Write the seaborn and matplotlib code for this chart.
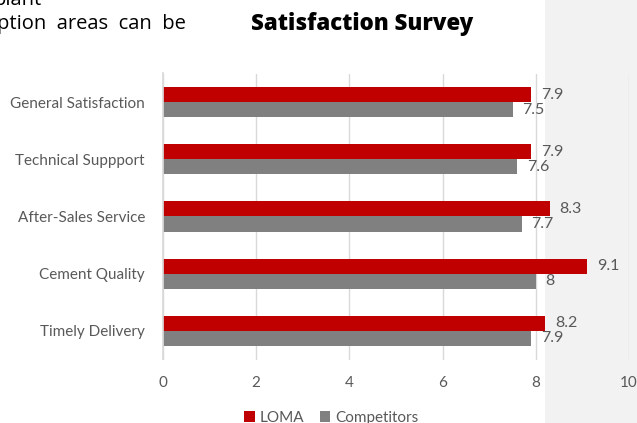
import pandas as pd
import seaborn as sns
from matplotlib import pyplot as plt
from matplotlib.patches import Rectangle, Patch

categories = ['General Satisfaction', 'Technical Suppport', 'After-Sales Service',
              'Cement Quality', 'Timely Delivery']
loma = [7.9, 7.9, 8.3, 9.1, 8.2]
competitors = [7.5, 7.6, 7.7, 8, 7.9]
series = ['LOMA', 'Competitors']
colors = ['#c00000', '#808080']

df = pd.DataFrame({
    'category': categories * 2,
    'score': loma + competitors,
    'series': [series[0]] * len(loma) + [series[1]] * len(competitors),
})

sns.set_theme(style='white')
plt.rcParams['font.family'] = ['Lato', 'DejaVu Sans']

fig = plt.figure(figsize=(6.37, 4.23), dpi=100)
# light grey page margin on the right
fig.patches.append(Rectangle((545 / 637, 0), 1, 1, transform=fig.transFigure,
                             facecolor='#f2f2f2', edgecolor='none', zorder=-10))

ax = fig.add_axes([163 / 637, 1 - 359.5 / 423, 466 / 637, 286 / 423])
ax.set_facecolor('none')

sns.barplot(data=df, x='score', y='category', hue='series', order=categories,
            hue_order=series, palette=colors, width=0.53, orient='h',
            saturation=1, linewidth=0, ax=ax, legend=False)

for cont in ax.containers:
    ax.bar_label(cont, labels=[f'{v:g}' for v in cont.datavalues], padding=7,
                 fontsize=11.5, color='#595959')

ax.set_xlim(0, 10)
ax.set_xticks([0, 2, 4, 6, 8, 10])
ax.grid(axis='x', color='#d9d9d9', linewidth=1)
ax.set_axisbelow(True)
for s in ['top', 'right', 'bottom']:
    ax.spines[s].set_visible(False)
ax.spines['left'].set_color('#d9d9d9')
ax.tick_params(axis='both', length=0, labelsize=11, colors='#595959')
ax.tick_params(axis='x', pad=12)
ax.tick_params(axis='y', pad=13)
ax.set_xlabel('')
ax.set_ylabel('')

fig.text(0.568, 0.943, 'Satisfaction Survey', ha='center', va='center',
         fontsize=16, fontweight='heavy', color='black', family=['Open Sans', 'DejaVu Sans'])
fig.text(-0.004, 0.943, 'ption  areas  can  be', ha='left', va='center',
         fontsize=14.5, color='black', family=['Open Sans', 'DejaVu Sans'])
fig.text(-0.01, 1.0, 'plant', ha='left', va='center',
         fontsize=14.5, color='black', family=['Open Sans', 'DejaVu Sans'])

handles = [Patch(facecolor=c, edgecolor='none') for c in colors]
fig.legend(handles, series, loc='center', bbox_to_anchor=(0.52, 0.012), ncol=2,
           frameon=False, fontsize=11, labelcolor='#595959', handlelength=0.7,
           handleheight=0.7, handletextpad=0.3, columnspacing=1.0)

fig.savefig('out.png', dpi=100)
